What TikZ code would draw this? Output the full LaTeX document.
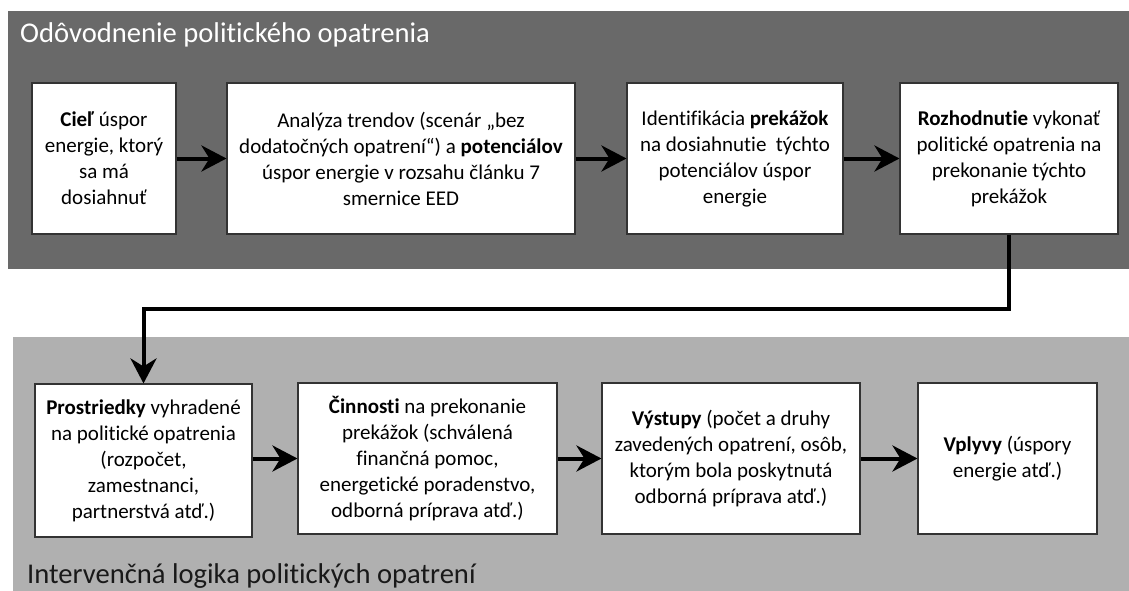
\documentclass[tikz,border=0pt]{standalone}
\usepackage{fontspec}
\setmainfont{Carlito}[Ligatures={TeX,NoCommon}]
\usetikzlibrary{arrows.meta}

\begin{document}
\begin{tikzpicture}[x=1pt,y=-1pt,
    box/.style={draw=black!80,line width=1.1pt,fill=white,inner sep=0pt,
      align=center,font=\fontsize{21}{26}\selectfont},
    flow/.style={line width=4pt,-{Stealth[length=25pt,width=26pt,inset=8pt]}},
    paneltitle/.style={anchor=base west,inner sep=0pt,font=\fontsize{28.6}{33}\selectfont}]
  \colorlet{darkpanel}{black!59}
  \colorlet{lightpanel}{black!31}
  \useasboundingbox (0,0) rectangle (1129,591);
  % the two bands
  \fill[darkpanel] (8,11) rectangle (1129,269);
  \fill[lightpanel] (13,337) rectangle (1129,591);
  \node[paneltitle,text=white] (toptitle) at (20,43) {Odôvodnenie politického opatrenia};
  \node[paneltitle,text=black!90] (bottomtitle) at (27,583) {Intervenčná logika politických opatrení};
  % upper row
  \node[box,minimum width=144pt,minimum height=151pt] (cil) at (104,158.5)
    {\textbf{Cieľ} úspor\\energie, ktorý\\sa má\\dosiahnuť};
  \node[box,minimum width=348pt,minimum height=151pt] (analyza) at (401,158.5)
    {Analýza trendov (scenár „bez\\dodatočných opatrení“) a \textbf{potenciálov}\\úspor energie v rozsahu článku 7\\smernice EED};
  \node[box,minimum width=216pt,minimum height=151pt] (prekazky) at (735,158.5)
    {Identifikácia \textbf{prekážok}\\na dosiahnutie~ týchto\\potenciálov úspor\\energie};
  \node[box,minimum width=218pt,minimum height=151pt] (rozhodnutie) at (1009,158.5)
    {\textbf{Rozhodnutie} vykonať\\politické opatrenia na\\prekonanie týchto\\prekážok};
  % lower row
  \node[box,minimum width=217pt,minimum height=153pt] (prostriedky) at (143.5,460.5)
    {\textbf{Prostriedky} vyhradené\\na politické opatrenia\\(rozpočet,\\zamestnanci,\\partnerstvá atď.)};
  \node[box,minimum width=259pt,minimum height=151pt] (cinnosti) at (427.5,458.5)
    {\textbf{Činnosti} na prekonanie\\prekážok (schválená\\finančná pomoc,\\energetické poradenstvo,\\odborná príprava atď.)};
  \node[box,minimum width=258pt,minimum height=151pt] (vystupy) at (731,458.5)
    {\textbf{Výstupy} (počet a druhy\\zavedených opatrení, osôb,\\ktorým bola poskytnutá\\odborná príprava atď.)};
  \node[box,minimum width=179pt,minimum height=151pt] (vplyvy) at (1007.5,458.5)
    {\textbf{Vplyvy} (úspory\\energie atď.)};
  % arrows
  \draw[flow] (cil) -- (analyza);
  \draw[flow] (analyza) -- (prekazky);
  \draw[flow] (prekazky) -- (rozhodnutie);
  \draw[flow] (rozhodnutie.south) -- ++(0,74) -| (prostriedky.north);
  \draw[flow] (prostriedky.east |- cinnosti) -- (cinnosti);
  \draw[flow] (cinnosti) -- (vystupy);
  \draw[flow] (vystupy) -- (vplyvy);
\end{tikzpicture}
\end{document}
